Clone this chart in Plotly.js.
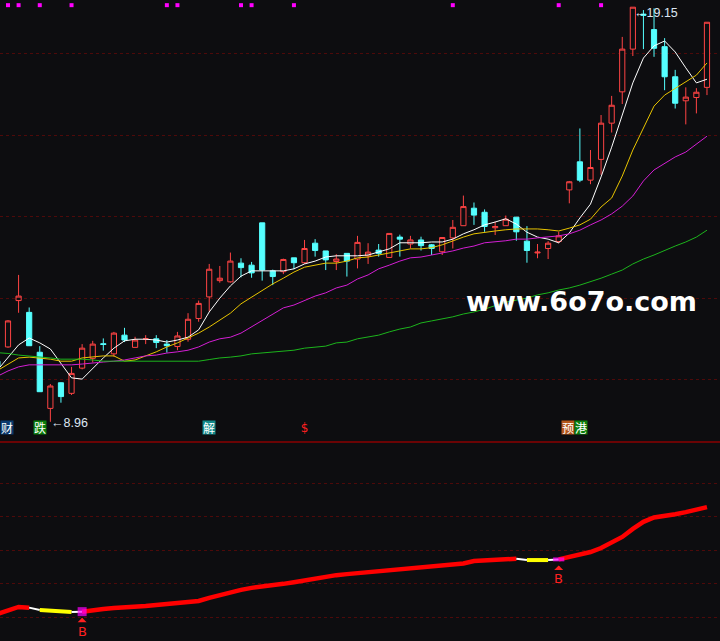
<!DOCTYPE html>
<html>
<head>
<meta charset="utf-8">
<script src="https://cdn.plot.ly/plotly-3.0.1.min.js"></script>
<style>
  html, body { margin: 0; padding: 0; background: #0d0d10; }
  #chart { width: 720px; height: 641px; }
</style>
</head>
<body>
<div id="chart"></div>
<script>
// K线数据 (第一根只露出一点)
const opens  = [10.45, 10.80, 11.94, 11.65, 10.67, 9.29, 9.92, 9.66, 10.28, 10.52, 10.88,
  10.63, 11.09, 10.79, 11.00, 11.00, 10.87, 10.81, 10.99, 11.50, 12.03,
  12.43, 12.40, 12.86, 12.81, 13.85, 12.67, 12.65, 12.99, 12.87, 13.35,
  13.16, 12.90, 13.10, 12.96, 13.04, 13.18, 13.00, 13.50, 13.33, 13.43,
  13.31, 13.14, 13.48, 13.78, 14.21, 14.11, 13.73, 13.78, 13.99, 13.40,
  13.11, 13.22, 13.39, 14.66, 15.35, 14.90, 15.41, 16.30, 17.07, 18.12,
  18.98, 18.60, 18.18, 17.44, 16.85, 16.93, 17.18];
const highs  = [10.50, 11.46, 12.57, 11.77, 10.82, 9.89, 9.93, 10.31, 10.87, 10.95, 11.01,
  11.17, 11.27, 11.05, 11.09, 11.09, 10.97, 11.17, 11.63, 11.94, 12.84,
  12.79, 13.12, 12.98, 12.89, 13.85, 12.70, 12.97, 12.99, 13.43, 13.45,
  13.16, 13.08, 13.10, 13.53, 13.35, 13.33, 13.59, 13.56, 13.53, 13.51,
  13.33, 13.49, 13.92, 14.52, 14.35, 14.18, 13.88, 14.03, 13.99, 13.77,
  13.33, 13.40, 13.63, 14.88, 16.17, 15.64, 16.50, 16.97, 18.42, 19.15,
  19.08, 19.12, 18.39, 17.61, 17.18, 17.16, 18.78];
const lows   = [10.28, 10.78, 11.64, 10.83, 9.70, 8.96, 9.43, 9.62, 10.25, 10.42, 10.71,
  10.56, 10.92, 10.79, 10.87, 10.77, 10.66, 10.72, 10.93, 11.42, 11.67,
  12.38, 12.38, 12.51, 12.50, 12.43, 12.32, 12.59, 12.71, 12.84, 13.02,
  12.69, 12.69, 12.53, 12.73, 12.84, 13.02, 13.00, 13.02, 13.22, 13.17,
  13.06, 13.06, 13.22, 13.78, 13.80, 13.63, 13.55, 13.78, 13.41, 12.87,
  12.98, 12.96, 13.35, 14.33, 14.85, 14.80, 15.03, 16.07, 16.77, 17.95,
  18.12, 17.93, 17.11, 16.66, 16.27, 16.54, 16.99];
const closes = [10.31, 11.44, 12.05, 10.83, 9.70, 9.84, 9.58, 10.15, 10.77, 10.87, 10.86,
  11.14, 10.97, 10.97, 11.00, 10.91, 10.83, 11.07, 11.48, 11.87, 12.71,
  12.49, 12.91, 12.75, 12.62, 12.69, 12.53, 12.95, 12.87, 13.22, 13.17,
  12.94, 12.96, 12.91, 13.37, 13.13, 13.10, 13.59, 13.45, 13.43, 13.29,
  13.22, 13.49, 13.74, 14.25, 14.04, 13.76, 13.76, 13.94, 13.63, 13.17,
  13.13, 13.35, 13.53, 14.86, 14.90, 15.21, 16.30, 16.74, 18.12, 19.15,
  18.95, 18.14, 17.44, 16.79, 16.94, 17.06, 18.78];

// 均线
const ma5  = [10.23, 10.55, 10.85, 11.02, 10.90, 10.75, 10.41, 10.04, 10.01, 10.28, 10.53,
  10.77, 10.95, 10.99, 10.99, 10.97, 10.92, 10.97, 11.04, 11.22, 11.66,
  12.00, 12.30, 12.54, 12.67, 12.67, 12.67, 12.67, 12.72, 12.84, 12.91,
  13.01, 13.04, 13.04, 13.04, 13.06, 13.13, 13.21, 13.36, 13.36, 13.36,
  13.38, 13.38, 13.45, 13.58, 13.68, 13.80, 13.87, 13.95, 13.82, 13.62,
  13.50, 13.45, 13.36, 13.60, 13.97, 14.31, 14.98, 15.71, 16.50, 17.29,
  17.90, 18.20, 18.32, 18.05, 17.66, 17.29, 17.38];
const ma10 = [10.22, 10.38, 10.53, 10.55, 10.53, 10.50, 10.45, 10.45, 10.53, 10.55, 10.58,
  10.58, 10.45, 10.48, 10.58, 10.68, 10.80, 10.90, 11.02, 11.14, 11.29,
  11.46, 11.63, 11.86, 12.03, 12.20, 12.35, 12.49, 12.64, 12.76, 12.81,
  12.86, 12.86, 12.91, 12.99, 13.01, 13.06, 13.11, 13.16, 13.21, 13.21,
  13.24, 13.31, 13.41, 13.50, 13.58, 13.62, 13.65, 13.68, 13.70, 13.70,
  13.70, 13.68, 13.65, 13.72, 13.80, 13.94, 14.24, 14.46, 15.00, 15.64,
  16.18, 16.72, 16.99, 17.16, 17.31, 17.48, 17.78];
const ma20 = [10.08, 10.21, 10.31, 10.36, 10.36, 10.36, 10.36, 10.36, 10.38, 10.41, 10.43,
  10.45, 10.48, 10.53, 10.58, 10.60, 10.65, 10.68, 10.72, 10.80, 10.92,
  11.00, 11.04, 11.14, 11.29, 11.44, 11.61, 11.76, 11.83, 11.95, 12.05,
  12.13, 12.25, 12.32, 12.47, 12.57, 12.72, 12.81, 12.91, 12.99, 13.01,
  13.06, 13.11, 13.16, 13.23, 13.28, 13.36, 13.38, 13.41, 13.45, 13.45,
  13.48, 13.50, 13.53, 13.58, 13.67, 13.80, 13.92, 14.07, 14.26, 14.51,
  14.88, 15.15, 15.32, 15.47, 15.59, 15.79, 15.98];
const ma60 = [10.66, 10.64, 10.60, 10.58, 10.55, 10.53, 10.50, 10.50, 10.50, 10.48, 10.45,
  10.45, 10.45, 10.45, 10.45, 10.45, 10.45, 10.45, 10.45, 10.45, 10.49,
  10.53, 10.55, 10.58, 10.63, 10.65, 10.68, 10.70, 10.72, 10.77, 10.80,
  10.82, 10.90, 10.92, 11.00, 11.04, 11.09, 11.17, 11.24, 11.29, 11.39,
  11.44, 11.49, 11.54, 11.61, 11.66, 11.73, 11.81, 11.90, 11.95, 12.00,
  12.08, 12.13, 12.20, 12.25, 12.32, 12.40, 12.49, 12.59, 12.69, 12.84,
  12.96, 13.06, 13.18, 13.28, 13.38, 13.50, 13.67];

// 副图指标
const indicator = [0.9, 2.0, 3.0, 2.8, 2.1, 1.9, 1.5, 1.5, 1.6, 2.1, 2.4,
  2.7, 2.8, 3.0, 3.3, 3.6, 3.9, 4.0, 4.2, 4.8, 5.7,
  6.6, 7.5, 8.1, 8.7, 9.0, 9.6, 9.9, 10.4, 11.0, 11.6,
  12.2, 12.5, 12.8, 13.1, 13.1, 13.4, 13.7, 14.2, 14.5, 14.9,
  15.1, 15.2, 15.5, 16.0, 16.7, 16.9, 17.0, 17.3, 17.4, 17.0,
  17.0, 17.0, 17.2, 17.9, 18.5, 19.4, 20.6, 22.1, 23.9, 26.3,
  28.4, 29.7, 30.1, 30.7, 31.3, 31.9, 32.8];
// 每段的状态: r 红, w 白, y 黄
const indState = ('rrrwyyyw' + 'r'.repeat(41) + 'wyyw' + 'r'.repeat(15)).split('');

const topSignals = [1, 2, 4, 7, 16, 17, 23, 24, 28, 43, 53, 57];
const buySignals = [8, 53];
const labelPos  = [1, 4, 20, 29, 54, 55];
const labelText = ['财', '跌', '解', '$', '预', '港'];
const lowIdx = 5, highIdx = 60;

const idx = opens.map((_, k) => k);

const bg = '#0d0d10';
const gridColor = '#4e0a0a';
const labelBg = { '财': '#0b3a6e', '跌': '#0b7d0b', '解': '#138a8a', '预': '#b4561a', '港': '#0b7d0b' };
const labelShift = { '财': -1.5, '预': -1, '港': 1 };
const stateStyle = {
    r: { color: '#ff0000', width: 4.5 },
    y: { color: '#ffff00', width: 4 },
    w: { color: '#ffffff', width: 2 }
};

const traces = [];

traces.push({
    type: 'candlestick', x: idx, open: opens, high: highs, low: lows, close: closes,
    increasing: { line: { color: '#ff4444', width: 1 }, fillcolor: bg },
    decreasing: { line: { color: '#55ffff', width: 1 }, fillcolor: '#55ffff' },
    whiskerwidth: 0, hoverinfo: 'skip', xaxis: 'x', yaxis: 'y'
});

[[ma5, '#ffffff'], [ma10, '#e8c400'], [ma20, '#d41ed4'], [ma60, '#1cb41c']].forEach(m => {
    traces.push({
        type: 'scatter', mode: 'lines', x: idx, y: m[0],
        line: { color: m[1], width: 1 }, hoverinfo: 'skip', xaxis: 'x', yaxis: 'y'
    });
});

traces.push({
    type: 'scatter', mode: 'markers', x: topSignals, y: topSignals.map(() => 19.2),
    marker: { symbol: 'square', size: 4, color: '#ff00ff' },
    hoverinfo: 'skip', xaxis: 'x', yaxis: 'y'
});

// 指标线按颜色分段
let s = 0;
for (let k = 1; k < idx.length; k++) {
    if (k === idx.length - 1 || indState[k] !== indState[s]) {
        const st = stateStyle[indState[s]];
        traces.push({
            type: 'scatter', mode: 'lines', x: idx.slice(s, k + 1), y: indicator.slice(s, k + 1),
            line: { color: st.color, width: st.width }, hoverinfo: 'skip', xaxis: 'x', yaxis: 'y2'
        });
        s = k;
    }
}

traces.push({
    type: 'scatter', mode: 'markers', x: buySignals, y: buySignals.map(k => indicator[k]),
    marker: { symbol: ['square', 'line-ew'], size: [9, 8], color: '#ff00ff',
              line: { color: '#ff00ff', width: [0, 4] } },
    hoverinfo: 'skip', xaxis: 'x', yaxis: 'y2'
});

const annotations = [];

labelPos.forEach((k, n) => {
    const t = labelText[n];
    const isDollar = t === '$';
    annotations.push({
        x: k, xref: 'x', y: 1 - 434.5 / 641, yref: 'paper', text: t, showarrow: false,
        xanchor: 'center', xshift: labelShift[t] || 0,
        font: { family: isDollar ? 'DejaVu Sans' : 'Noto Sans CJK SC', size: 12,
                color: isDollar ? '#ff2020' : '#ffffff' },
        bgcolor: isDollar ? 'rgba(0,0,0,0)' : labelBg[t], width: isDollar ? 9 : 12, height: 13, borderpad: 0
    });
});

annotations.push({
    x: lowIdx, y: lows[lowIdx], xref: 'x', yref: 'y', text: '←' + lows[lowIdx].toFixed(2),
    showarrow: false, xanchor: 'left', yanchor: 'middle', xshift: -1, yshift: -1,
    font: { family: 'Liberation Sans', size: 12.5, color: '#dde6f2' }
});
annotations.push({
    x: highIdx, y: highs[highIdx], xref: 'x', yref: 'y', text: '←' + highs[highIdx].toFixed(2),
    showarrow: false, xanchor: 'left', yanchor: 'middle', xshift: -1, yshift: -6,
    font: { family: 'Liberation Sans', size: 12.5, color: '#dde6f2' }
});

buySignals.forEach(k => {
    annotations.push({
        x: k, y: indicator[k], xref: 'x', yref: 'y2', text: 'B',
        showarrow: true, ax: 0, ay: 10, standoff: 6, arrowhead: 1, arrowsize: 1, arrowwidth: 1.5,
        arrowcolor: '#ff2020', yanchor: 'top',
        font: { family: 'DejaVu Sans', size: 13, color: '#ff2020' }
    });
});

annotations.push({
    x: 581 / 720, y: 1 - 301 / 641, xref: 'paper', yref: 'paper', text: 'www.6o7o.com',
    xanchor: 'center', yanchor: 'middle',
    showarrow: false, font: { family: 'DejaVu Sans', size: 27, color: '#ffffff', weight: 'bold' }
});

const split = 1 - 442 / 641;

const layout = {
    width: 720, height: 641,
    margin: { t: 0, b: 0, l: 0, r: 0 },
    paper_bgcolor: bg, plot_bgcolor: bg,
    showlegend: false,
    xaxis: {
        range: [0.2446, 68.23], rangeslider: { visible: false },
        showgrid: false, zeroline: false, showticklabels: false, ticks: ''
    },
    yaxis: {
        domain: [split, 1], range: [8.464, 19.327],
        tickvals: [10, 12, 14, 16, 18], showgrid: true, gridcolor: gridColor, griddash: 'dot',
        gridwidth: 1, zeroline: false, showticklabels: false, ticks: ''
    },
    yaxis2: {
        domain: [0, split], range: [-7.16, 52.24],
        tickvals: [0, 10, 20, 30, 40], showgrid: true, gridcolor: gridColor, griddash: 'dot',
        gridwidth: 1, zeroline: false, showticklabels: false, ticks: ''
    },
    shapes: [{
        type: 'line', xref: 'paper', yref: 'paper', x0: 0, x1: 1, y0: split, y1: split,
        line: { color: '#8a0000', width: 1.5 }
    }],
    annotations: annotations
};

Plotly.newPlot('chart', traces, layout, { displayModeBar: false, staticPlot: true });
</script>
</body>
</html>
